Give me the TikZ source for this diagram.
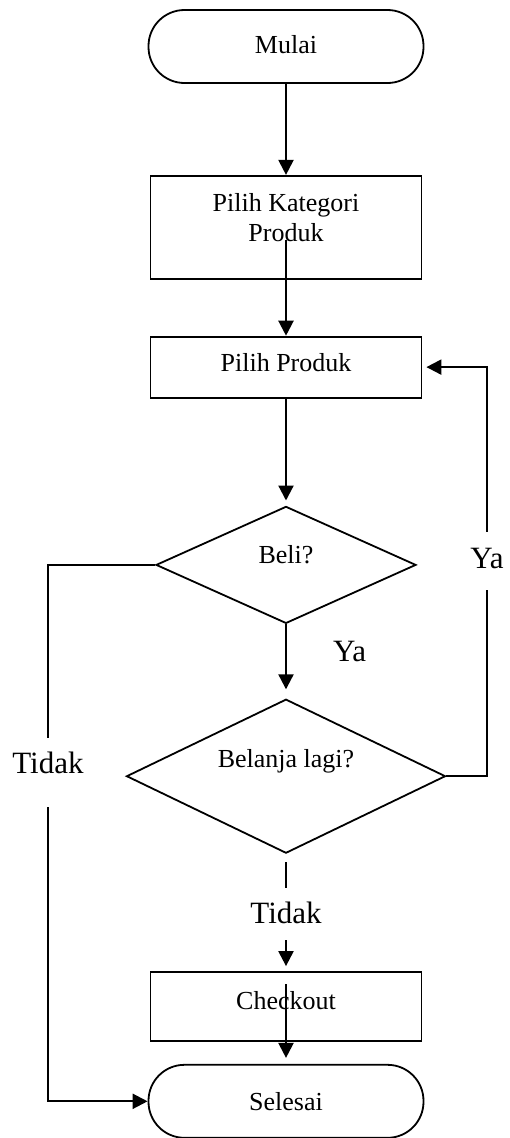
\documentclass[tikz,border=0pt]{standalone}
\usepackage{fontspec}
\setmainfont{Liberation Serif}
\usetikzlibrary{arrows.meta,positioning,shapes.geometric}

\begin{document}
\begin{tikzpicture}[
x=1pt,y=-1pt,
every node/.style={font=\fontsize{26}{30}\selectfont},
terminal/.style={draw,line width=1.8pt,rounded corners=36pt,minimum width=275pt,minimum height=73pt,text height=18pt},
box/.style={draw,line width=1.8pt,minimum width=271pt,align=center,text height=18pt},
decision/.style={draw,diamond,line width=1.8pt,inner sep=0pt,text height=18pt},
arr/.style={-{Triangle[length=15pt,width=15pt]},line width=2.2pt},
lbl/.style={inner sep=0pt,font=\fontsize{31}{36}\selectfont},
gaplabel/.style={lbl,fill=white}
]
\useasboundingbox[fill=white] (0,0) rectangle (510,1138);
\node[terminal,text depth=4pt] (mulai) at (286,46.5) {Mulai};
\node[box,below=91pt of mulai,minimum height=103pt,text height=48pt,text depth=19pt] (kategori) {Pilih Kategori\\Produk};
\node[box,below=56pt of kategori,minimum height=61pt,text depth=9pt] (produk) {Pilih Produk};
\node[decision,below=107pt of produk,minimum width=260pt,minimum height=117pt,aspect=2.22,text depth=20pt] (beli) {Beli?};
\node[decision,below=74pt of beli,minimum width=319pt,minimum height=154pt,aspect=2.07,text depth=36pt] (lagi) {Belanja lagi?};
\node[box,below=117pt of lagi,minimum height=69pt,text depth=12pt] (checkout) {Checkout};
\node[terminal,below=22pt of checkout,text depth=0pt] (selesai) {Selesai};
\coordinate (kiri) at (48,772.5);
\coordinate (kanan) at (487,561);
\draw[arr] (mulai)--(kategori);
\draw[arr] ([yshift=-12.5pt]kategori.center)--(produk);
\draw[arr,shorten >=5pt] (produk)--(beli);
\draw[arr,shorten >=9pt] (beli)--node[lbl,pos=0.37,right=46pt]{Ya}(lagi);
\draw[arr,shorten >=5pt] ([yshift=-8pt]lagi.south)--node[gaplabel,pos=0.48,text height=35pt,text depth=17pt]{Tidak}(checkout);
\draw[arr,shorten >=6pt] ([yshift=22.5pt]checkout.center)--(selesai);
\draw[arr] (beli.west)-|(kiri) node[gaplabel,text height=35pt,text depth=34pt]{Tidak} |-(selesai.west);
\draw[arr,shorten >=4pt] (lagi.east)-|(kanan) node[gaplabel,text height=36pt,text depth=22pt]{Ya} |-(produk.east);
\end{tikzpicture}
\end{document}
